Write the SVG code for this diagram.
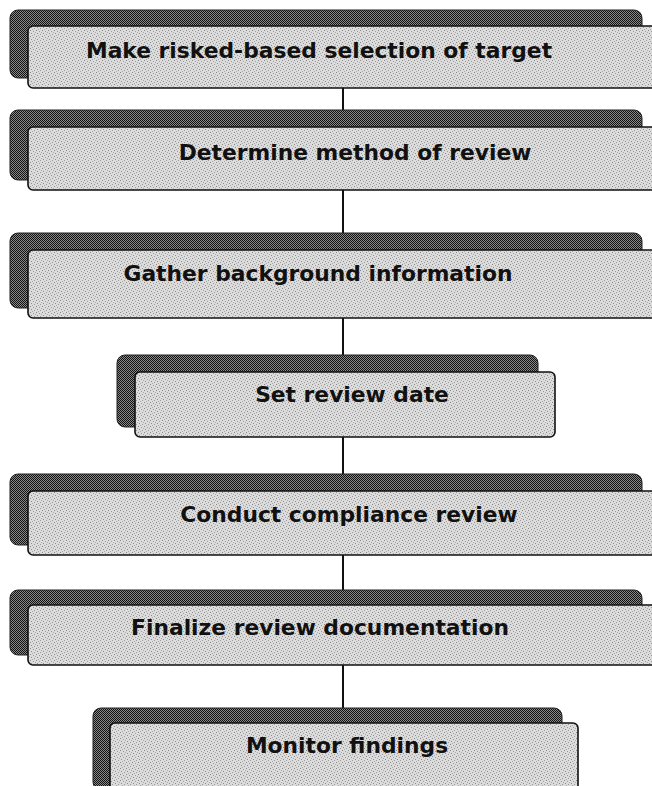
<svg xmlns="http://www.w3.org/2000/svg" width="652" height="786" viewBox="0 0 652 786">
<defs>
<pattern id="dk" width="2" height="2" patternUnits="userSpaceOnUse">
<rect width="2" height="2" fill="#8a8a8a"/>
<rect width="1" height="1" fill="#111"/>
<rect x="1" y="1" width="1" height="1" fill="#111"/>
</pattern>
<pattern id="lt" width="6" height="6" patternUnits="userSpaceOnUse">
<rect width="6" height="6" fill="#dcdcdc"/>
<rect x="0" y="0" width="1" height="1" fill="#888"/>
<rect x="3" y="1" width="1" height="1" fill="#9a9a9a"/>
<rect x="1" y="3" width="1" height="1" fill="#8c8c8c"/>
<rect x="4" y="4" width="1" height="1" fill="#999"/>
<rect x="2" y="5" width="1" height="1" fill="#aaa"/>
<rect x="5" y="2" width="1" height="1" fill="#aaa"/>
</pattern>
</defs>
<style>
.back{fill:url(#dk);stroke:#222;stroke-width:1}
.front{fill:url(#lt);stroke:#111;stroke-width:1.6}
.lbl{font-family:"DejaVu Sans",Verdana,sans-serif;font-weight:bold;font-size:21.8px;fill:#111;text-anchor:middle}
.conn{stroke:#111;stroke-width:2;fill:none}
</style>
<rect width="652" height="786" fill="#fff"/>
<g id="connectors">
<line class="conn" x1="343" y1="88" x2="343" y2="110"/>
<line class="conn" x1="343" y1="190" x2="343" y2="233"/>
<line class="conn" x1="343" y1="318" x2="343" y2="355"/>
<line class="conn" x1="343" y1="437" x2="343" y2="474"/>
<line class="conn" x1="343" y1="555" x2="343" y2="590"/>
<line class="conn" x1="343" y1="665" x2="343" y2="708"/>
</g>
<g id="n1">
<rect class="back" x="10" y="10" width="632" height="68" rx="8"/>
<rect class="front" x="28" y="26" width="640" height="62" rx="5"/>
<text class="lbl" x="319" y="58">Make risked-based selection of target</text>
</g>
<g id="n2">
<rect class="back" x="10" y="110" width="632" height="70" rx="8"/>
<rect class="front" x="28" y="127" width="640" height="63" rx="5"/>
<text class="lbl" x="355" y="160">Determine method of review</text>
</g>
<g id="n3">
<rect class="back" x="10" y="233" width="632" height="75" rx="8"/>
<rect class="front" x="28" y="250" width="640" height="68" rx="5"/>
<text class="lbl" x="318" y="281">Gather background information</text>
</g>
<g id="n4">
<rect class="back" x="117" y="355" width="421" height="72" rx="8"/>
<rect class="front" x="135" y="372" width="420" height="65" rx="5"/>
<text class="lbl" x="352" y="402">Set review date</text>
</g>
<g id="n5">
<rect class="back" x="10" y="474" width="632" height="71" rx="8"/>
<rect class="front" x="28" y="491" width="640" height="64" rx="5"/>
<text class="lbl" x="349" y="522">Conduct compliance review</text>
</g>
<g id="n6">
<rect class="back" x="10" y="590" width="632" height="65" rx="8"/>
<rect class="front" x="28" y="605" width="640" height="60" rx="5"/>
<text class="lbl" x="320" y="635">Finalize review documentation</text>
</g>
<g id="n7">
<rect class="back" x="93" y="708" width="469" height="82" rx="8"/>
<rect class="front" x="110" y="723" width="468" height="72" rx="5"/>
<text class="lbl" x="347" y="753">Monitor findings</text>
</g>
</svg>
